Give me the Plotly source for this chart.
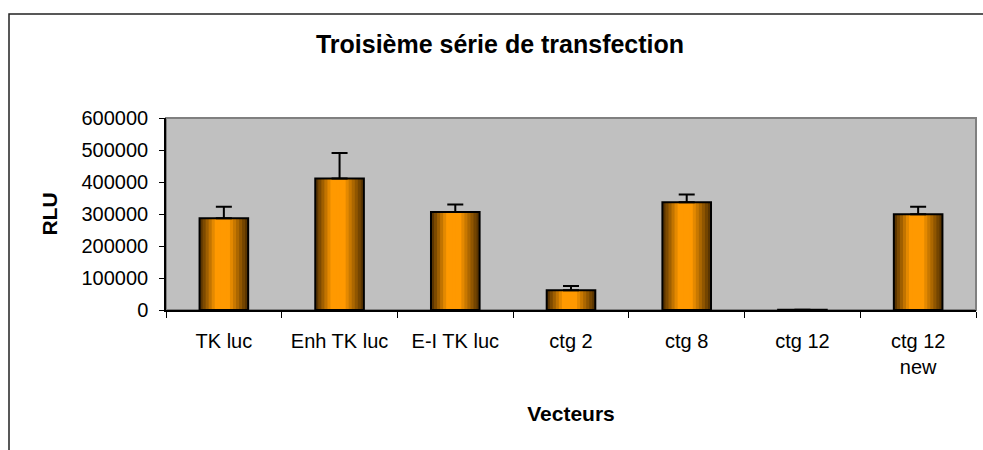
import plotly.graph_objects as go

# ---- data ----
categories = ["TK luc", "Enh TK luc", "E-I TK luc", "ctg 2", "ctg 8", "ctg 12", "ctg 12<br>new"]
rlu_values = [287000, 411000, 306000, 62000, 337000, 500, 299000]
rlu_errors = [36000, 80000, 24000, 13000, 24000, 500, 24000]
y_ticks = [0, 100000, 200000, 300000, 400000, 500000, 600000]
y_tick_labels = [str(v) for v in y_ticks]

title_text = "Troisième série de transfection"
x_title = "Vecteurs"
y_title = "RLU"

# ---- style ----
FONT = "Liberation Sans, Arial, sans-serif"
BAR_W = 0.42
N_STRIPS = 16
DARK = (0x5A, 0x35, 0x00)
LIGHT = (0xFF, 0x99, 0x00)
PEAK = 0.45

fig = go.Figure()

# gradient (dark - orange - dark) built from overlapping strips
for i in range(N_STRIPS):
    t = (i + 0.5) / N_STRIPS
    d = abs(t - PEAK) / ((1 - PEAK) if t > PEAK else PEAK)
    f = min(1.0, max(0.0, 1.5 * (1 - d) - 0.1))
    c = tuple(round(DARK[k] + (LIGHT[k] - DARK[k]) * f) for k in range(3))
    start = -BAR_W / 2 + i * BAR_W / N_STRIPS
    fig.add_bar(
        x=categories, y=rlu_values,
        width=BAR_W / 2 - start, offset=start,
        marker=dict(color="rgb(%d,%d,%d)" % c, line=dict(width=0)),
        showlegend=False, hoverinfo="skip",
    )

# outline + error bars
fig.add_bar(
    x=categories, y=rlu_values, width=BAR_W, offset=-BAR_W / 2,
    marker=dict(color="rgba(0,0,0,0)", line=dict(color="black", width=2)),
    error_y=dict(type="data", array=rlu_errors, arrayminus=[0] * len(rlu_errors),
                 symmetric=False, color="black", thickness=2, width=8),
    showlegend=False,
)

L, R, T, B = 166, 7, 118, 140
W, H = 983, 450
pw, ph = W - L - R, H - T - B

def px_x(p):
    return (p - L) / pw

def px_y(p):
    return (H - B - p) / ph

fig.update_layout(
    width=W, height=H, autosize=False,
    margin=dict(l=L, r=R, t=T, b=B, pad=0),
    paper_bgcolor="white", plot_bgcolor="#C0C0C0",
    barmode="overlay",
    font=dict(family=FONT, color="black", size=20),
    title=dict(text=title_text, x=500 / W, xanchor="center", xref="container",
               y=1 - 44 / H, yanchor="middle", yref="container",
               font=dict(family=FONT, size=25, weight=700, color="black")),
    xaxis=dict(
        type="category", tickson="boundaries", ticks="outside", ticklen=6,
        tickcolor="black", tickwidth=1, showline=True, linecolor="black", linewidth=1.5,
        showgrid=False, tickfont=dict(family=FONT, size=20, color="black"),
        ticklabelstandoff=12,
        title=dict(text=x_title, font=dict(family=FONT, size=21, weight=700, color="black"),
                   standoff=30),
    ),
    yaxis=dict(
        range=[0, 600000], tickvals=y_ticks, ticktext=y_tick_labels,
        ticks="outside", ticklen=5, tickcolor="black", tickwidth=1,
        showline=True, linecolor="black", linewidth=1.5, showgrid=False, zeroline=False,
        tickfont=dict(family=FONT, size=20, color="black"),
        ticklabelstandoff=7,
        title=dict(text=y_title, font=dict(family=FONT, size=21, weight=700, color="black"),
                   standoff=18),
    ),
    shapes=[
        # plot-area grey frame (top/right)
        dict(type="rect", xref="x domain", yref="y domain", x0=0, x1=1, y0=0, y1=1,
             line=dict(color="#808080", width=2), fillcolor="rgba(0,0,0,0)", layer="below"),
        # chart-area outer border
        dict(type="rect", xref="paper", yref="paper",
             x0=px_x(9), x1=px_x(W + 20), y0=px_y(H + 20), y1=px_y(14),
             line=dict(color="#222222", width=1.5), fillcolor="rgba(0,0,0,0)", layer="below"),
    ],
)

fig.write_html("out.html", config={"displayModeBar": False},
               post_script="document.body.style.margin='0';")
